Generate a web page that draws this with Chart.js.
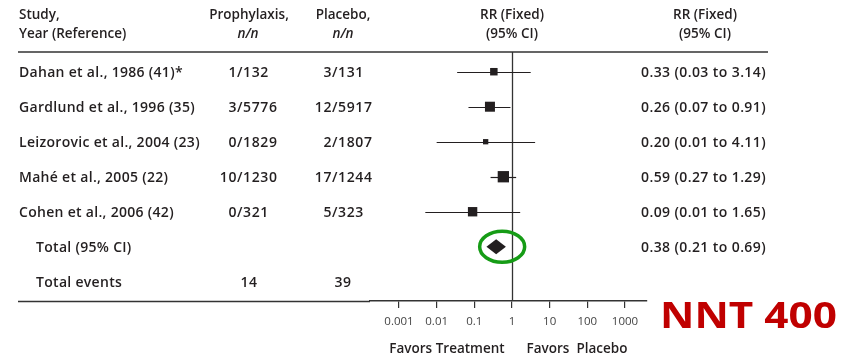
<!DOCTYPE html>
<html>
<head>
<meta charset="utf-8">
<script src="https://cdn.jsdelivr.net/npm/chart.js@4.4.1/dist/chart.umd.min.js"></script>
<style>
  html, body { margin: 0; padding: 0; background: #fff; }
  #wrap { width: 850px; height: 358px; }
</style>
</head>
<body>
<div id="wrap"><canvas id="forestChart"></canvas></div>
<script>
// study rows
const studies = [
  'Dahan et al., 1986 (41)*',
  'Gardlund et al., 1996 (35)',
  'Leizorovic et al., 2004 (23)',
  'Mahé et al., 2005 (22)',
  'Cohen et al., 2006 (42)'
];
const prophylaxis = ['1/132', '3/5776', '0/1829', '10/1230', '0/321'];
const placebo = ['3/131', '12/5917', '2/1807', '17/1244', '5/323'];
const rr = [0.33, 0.26, 0.20, 0.59, 0.09];
const ciLow = [0.035, 0.07, 0.01, 0.27, 0.005];
const ciHigh = [3.14, 0.91, 4.11, 1.29, 1.65];
const weights = [14, 25, 7, 32, 22]; // relative weight, %
const rrText = [
  '0.33 (0.03 to 3.14)',
  '0.26 (0.07 to 0.91)',
  '0.20 (0.01 to 4.11)',
  '0.59 (0.27 to 1.29)',
  '0.09 (0.01 to 1.65)'
];

// pooled result
const totalRR = 0.38;
const totalLow = 0.21;
const totalHigh = 0.69;
const totalText = '0.38 (0.21 to 0.69)';
const totalEvents = ['14', '39'];

// x axis
const tickValues = [0.001, 0.01, 0.1, 1, 10, 100, 1000];
const tickLabels = ['0.001', '0.01', '0.1', '1', '10', '100', '1000'];

const nntLabel = 'NNT 400';

const ink = '#231f20';
const FONT = '"Open Sans", sans-serif';

function ready( fn ) {
  if ( document.readyState !== 'loading' ) {
    fn();
  } else {
    document.addEventListener( 'DOMContentLoaded', fn );
  }
}

ready( function () {
  forestChart();
} );

function drawSlashed(ctx, txt, slashX, y) {
  const i = txt.indexOf('/');
  ctx.textAlign = 'right';
  ctx.fillText(txt.slice(0, i), slashX, y);
  ctx.textAlign = 'left';
  ctx.fillText(txt.slice(i), slashX, y);
}

const forestPlugin = {
  id: 'forest',
  beforeDatasetsDraw(chart) {
    const { ctx, chartArea } = chart;
    const xs = chart.scales.x, ys = chart.scales.y;
    ctx.save();
    ctx.strokeStyle = '#333';
    ctx.lineWidth = 1.3;
    // line of no effect
    const x1 = Math.round(xs.getPixelForValue(1)) + 0.5;
    ctx.beginPath();
    ctx.moveTo(x1, 52);
    ctx.lineTo(x1, chartArea.bottom);
    ctx.stroke();
    // confidence intervals
    ctx.strokeStyle = ink;
    ctx.lineWidth = 1.2;
    rr.forEach((v, i) => {
      const y = Math.round(ys.getPixelForValue(i)) + 0.5;
      ctx.beginPath();
      ctx.moveTo(xs.getPixelForValue(ciLow[i]), y);
      ctx.lineTo(xs.getPixelForValue(ciHigh[i]), y);
      ctx.stroke();
    });
    ctx.restore();
  },
  afterDraw(chart) {
    const { ctx, chartArea } = chart;
    const xs = chart.scales.x, ys = chart.scales.y;
    ctx.save();

    // rules
    ctx.strokeStyle = '#333';
    ctx.lineWidth = 1.6;
    ctx.beginPath();
    ctx.moveTo(18, 52);
    ctx.lineTo(768, 52);
    ctx.moveTo(18, chartArea.bottom + 0.5);
    ctx.lineTo(chartArea.left, chartArea.bottom + 0.5);
    ctx.stroke();

    // headers
    ctx.fillStyle = ink;
    ctx.textBaseline = 'middle';
    ctx.font = '600 13.5px ' + FONT;
    ctx.textAlign = 'left';
    ctx.fillText('Study,', 19, 15);
    ctx.fillText('Year (Reference)', 19, 34);
    ctx.textAlign = 'center';
    ctx.fillText('Prophylaxis,', 249, 15);
    ctx.fillText('Placebo,', 343, 15);
    ctx.fillText('RR (Fixed)', 512, 15);
    ctx.fillText('(95% CI)', 512, 34);
    ctx.fillText('RR (Fixed)', 705, 15);
    ctx.fillText('(95% CI)', 705, 34);
    ctx.font = 'italic 600 13.5px ' + FONT;
    ctx.fillText('n/n', 248, 34);
    ctx.fillText('n/n', 343, 34);

    // rows
    ctx.font = '600 14px ' + FONT;
    studies.forEach((s, i) => {
      const y = ys.getPixelForValue(i) + 1;
      ctx.letterSpacing = '0.3px';
      ctx.textAlign = 'left';
      ctx.fillText(s, 19, y);
      ctx.letterSpacing = '0.6px';
      drawSlashed(ctx, prophylaxis[i], 237, y);
      drawSlashed(ctx, placebo[i], 332, y);
      ctx.letterSpacing = '0.4px';
      ctx.textAlign = 'left';
      ctx.fillText(rrText[i], 641, y);
    });
    const yT = ys.getPixelForValue(5) + 1;
    const yE = ys.getPixelForValue(6) + 1;
    ctx.letterSpacing = '0.3px';
    ctx.textAlign = 'left';
    ctx.fillText('Total (95% CI)', 36, yT);
    ctx.fillText('Total events', 36, yE);
    ctx.letterSpacing = '0.4px';
    ctx.fillText(totalText, 641, yT);
    ctx.textAlign = 'center';
    ctx.fillText(totalEvents[0], 249, yE);
    ctx.fillText(totalEvents[1], 343, yE);
    ctx.letterSpacing = '0px';

    // pooled diamond
    const cx = xs.getPixelForValue(totalRR);
    const yd = ys.getPixelForValue(5);
    ctx.beginPath();
    ctx.moveTo(xs.getPixelForValue(totalLow), yd);
    ctx.lineTo(cx, yd - 7.5);
    ctx.lineTo(xs.getPixelForValue(totalHigh), yd);
    ctx.lineTo(cx, yd + 7.5);
    ctx.closePath();
    ctx.fill();

    // highlight ring
    ctx.strokeStyle = '#169c16';
    ctx.lineWidth = 3.5;
    ctx.beginPath();
    ctx.ellipse(cx + 6, yd, 22.5, 15.5, 0, 0, Math.PI * 2);
    ctx.stroke();

    // favors labels
    ctx.fillStyle = ink;
    ctx.font = '600 13.5px ' + FONT;
    ctx.textAlign = 'center';
    ctx.fillText('Favors Treatment', 447, 349);
    ctx.fillText('Favors  Placebo', 577, 349);

    // NNT
    ctx.fillStyle = '#c00000';
    ctx.font = 'bold 36px ' + FONT;
    ctx.textAlign = 'left';
    ctx.textBaseline = 'alphabetic';
    const w = ctx.measureText(nntLabel).width;
    ctx.translate(660, 328);
    ctx.scale(177 / w, 1);
    ctx.fillText(nntLabel, 0, 0);
    ctx.restore();
  }
};

function forestChart() {
  const ctx = document.getElementById('forestChart').getContext('2d');

  Chart.defaults.font.family = FONT;
  Chart.defaults.color = '#333';

  const data = {
    datasets: [
      {
        label: 'Studies',
        data: rr.map((v, i) => ({ x: v, y: i })),
        pointStyle: 'rect',
        pointRadius: weights.map(w => 2.0 * Math.sqrt(w) / Math.SQRT2),
        backgroundColor: ink,
        borderColor: ink,
        borderWidth: 0
      }
    ]
  };

  const config = {
    type: 'scatter',
    data: data,
    options: {
      responsive: true,
      maintainAspectRatio: false,
      animation: false,
      events: [],
      layout: {
        padding: { left: 370, right: 203, top: 52, bottom: 0 }
      },
      plugins: {
        legend: { display: false },
        tooltip: { enabled: false }
      },
      scales: {
        x: {
          type: 'logarithmic',
          min: 1.7e-4,
          max: 3840,
          afterBuildTicks: (scale) => {
            scale.ticks = tickValues.map(v => ({ value: v }));
          },
          afterFit: (scale) => {
            scale.height = 57;
          },
          grid: {
            display: true,
            drawOnChartArea: false,
            drawTicks: true,
            tickLength: 7,
            color: '#333',
            lineWidth: 1.2
          },
          border: { display: true, color: '#333', width: 1.6 },
          ticks: {
            autoSkip: false,
            maxRotation: 0,
            padding: 7,
            color: '#444',
            font: { size: 11.5 },
            callback: (value, index) => tickLabels[index]
          }
        },
        y: {
          type: 'linear',
          display: false,
          reverse: true,
          min: -0.563,
          max: 6.55
        }
      }
    },
    plugins: [forestPlugin]
  };
  const myChart = new Chart(ctx, config);
}
</script>
</body>
</html>
